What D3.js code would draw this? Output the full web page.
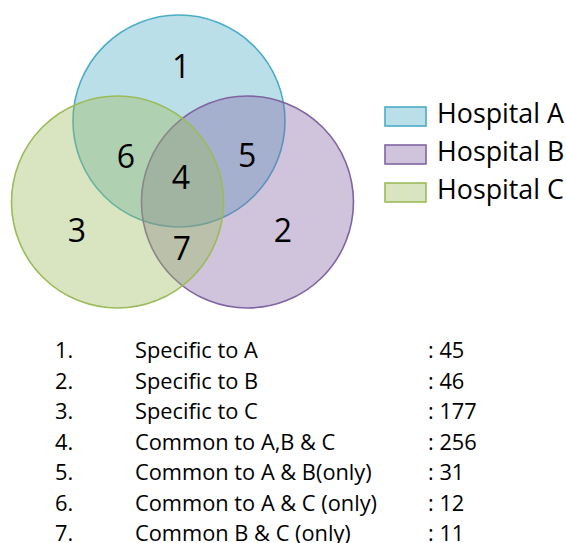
<!DOCTYPE html>
<html>
<head>
<meta charset="utf-8">
<script src="https://cdn.jsdelivr.net/npm/d3@7"></script>
<style>
  body { margin: 0; background: #fff; }
  text { font-family: "Open Sans", Lato, sans-serif; fill: #000; }
</style>
</head>
<body>
<svg width="566" height="543"></svg>
<script>
// Sets and their colours
const setNames = ["Hospital A", "Hospital B", "Hospital C"];
const setStroke = ["#4bacc6", "#8064a2", "#9bbb59"];
const setFill = ["#4bacc6", "#8064a2", "#9bbb59"];

// Venn regions (label numbers) and table rows
const regionIds = [1, 2, 3, 4, 5, 6, 7];
const regionText = [
    "Specific to A",
    "Specific to B",
    "Specific to C",
    "Common to A,B & C",
    "Common to A & B(only)",
    "Common to A & C (only)",
    "Common B & C (only)"
];
const regionCounts = [45, 46, 177, 256, 31, 12, 11];

const svg = d3.select("svg");

// Venn layout in circle-radius units (origin = centre of circle C)
const circleUnits = [[0.58, -0.764], [1.226, 0], [0, 0]];
const labelUnits = [
    [0.60, -1.283], [1.561, 0.264], [-0.384, 0.264], [0.599, -0.236],
    [1.222, -0.443], [0.080, -0.425], [0.608, 0.434]
];

const r = 106;
const x = d3.scaleLinear().domain([0, 1]).range([117.5, 117.5 + r]);
const y = d3.scaleLinear().domain([0, 1]).range([202, 202 + r]);

const venn = svg.append("g");

venn.selectAll("circle")
    .data(setNames)
    .join("circle")
    .attr("cx", (d, i) => x(circleUnits[i][0]))
    .attr("cy", (d, i) => y(circleUnits[i][1]))
    .attr("r", r)
    .attr("fill", (d, i) => setFill[i])
    .attr("fill-opacity", 0.38)
    .attr("stroke", (d, i) => setStroke[i])
    .attr("stroke-width", 1.6);

venn.selectAll("text")
    .data(regionIds)
    .join("text")
    .attr("x", (d, i) => x(labelUnits[i][0]))
    .attr("y", (d, i) => y(labelUnits[i][1]))
    .attr("text-anchor", "middle")
    .attr("dy", "0.36em")
    .style("font-size", "32px")
    .text(d => d);

// Legend
const legend = svg.append("g")
    .attr("transform", "translate(385,107)");

const row = d3.scaleBand().domain(setNames).range([0, 114]);

const item = legend.selectAll("g")
    .data(setNames)
    .join("g")
    .attr("transform", d => `translate(0,${row(d)})`);

item.append("rect")
    .attr("width", 41)
    .attr("height", 19)
    .attr("fill", (d, i) => setFill[i])
    .attr("fill-opacity", 0.38)
    .attr("stroke", (d, i) => setStroke[i])
    .attr("stroke-width", 1.6);

item.append("text")
    .attr("x", 52)
    .attr("y", 16)
    .style("font-size", "26.8px")
    .text(d => d);

// Table of region counts
const ty = d3.scaleBand().domain(regionIds).range([336, 549.5]);

const tbl = svg.append("g")
    .selectAll("g")
    .data(regionIds)
    .join("g")
    .attr("transform", d => `translate(0,${ty(d) + 22})`)
    .style("font-size", "21.8px");

tbl.append("text").attr("x", 55).text(d => d + ".");
tbl.append("text").attr("x", 135).text((d, i) => regionText[i]);
tbl.append("text").attr("x", 428).text((d, i) => ": " + regionCounts[i]);
</script>
</body>
</html>
